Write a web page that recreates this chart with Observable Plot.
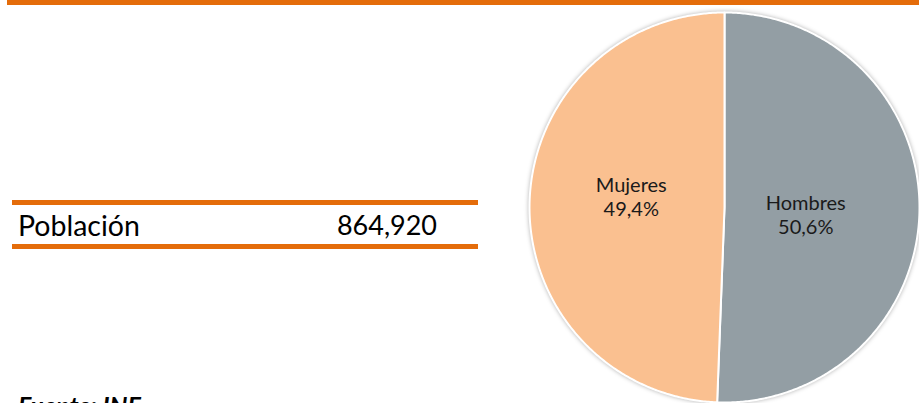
<!DOCTYPE html>
<html>
<head>
<meta charset="utf-8">
<script src="https://cdn.jsdelivr.net/npm/d3@7"></script>
<script src="https://cdn.jsdelivr.net/npm/@observablehq/plot@0.6"></script>
<style>
  html, body { margin: 0; padding: 0; background: #fff; }
  body { width: 919px; height: 403px; overflow: hidden; position: relative; font-family: Lato, "Open Sans", sans-serif; }
  .bar { position: absolute; background: #E46C0A; }
  .txt { position: absolute; white-space: nowrap; line-height: 1; color: #000; }
  #pie { position: absolute; left: 524px; top: 6.5px; width: 400px; height: 400px; }
  #pie svg { max-width: none !important; }
</style>
</head>
<body>
<div class="bar" style="left:7px; top:0; width:912px; height:5px;"></div>
<div class="bar" style="left:12px; top:200px; width:466px; height:5px;"></div>
<div class="bar" style="left:12px; top:244px; width:466px; height:5px;"></div>
<div id="lbl" class="txt" style="left:18px; top:211px; font-size:28.5px;"></div>
<div id="val" class="txt" style="right:482px; top:211px; font-size:27px;"></div>
<div id="src" class="txt" style="left:18px; top:393px; font-size:25px; font-weight:bold; font-style:italic;"></div>
<div id="pie"></div>
<script>
// ---- data ----
const sexo = ["Hombres", "Mujeres"];
const porcentaje = [50.6, 49.4];
const etiquetas = ["50,6%", "49,4%"];
const colores = ["#939EA4", "#FAC090"];
const indicador = "Población";
const poblacion = 864920;
const fuente = "Fuente: INE";

document.getElementById("lbl").textContent = indicador;
document.getElementById("val").textContent = d3.format(",")(poblacion);
document.getElementById("src").textContent = fuente;

const table = sexo.map((s, i) => ({sexo: s, valor: porcentaje[i], etiqueta: etiquetas[i]}));
const arcs = d3.pie().sort(null).value(d => d.valor)(table);

// slice outlines built from the pie angles (unit radius)
const pts = [];
arcs.forEach(a => {
  pts.push({sexo: a.data.sexo, x: 0, y: 0});
  const n = Math.max(2, Math.ceil((a.endAngle - a.startAngle) / (Math.PI / 360)));
  for (let k = 0; k <= n; k++) {
    const t = a.startAngle + (a.endAngle - a.startAngle) * k / n;
    pts.push({sexo: a.data.sexo, x: Math.sin(t), y: Math.cos(t)});
  }
  pts.push({sexo: a.data.sexo, x: 0, y: 0});
});
const labelRadius = 0.45, labelTurn = 5 * Math.PI / 180;
const labels = arcs.map(a => {
  const m = (a.startAngle + a.endAngle) / 2 + labelTurn;
  return {x: labelRadius * Math.sin(m), y: labelRadius * Math.cos(m), text: a.data.sexo + "\n" + a.data.etiqueta};
});

const k = 200 / 195;
const chart = Plot.plot({
  width: 400,
  height: 400,
  margin: 0,
  x: {domain: [-k, k], axis: null},
  y: {domain: [-k, k], axis: null},
  color: {domain: sexo, range: colores},
  marks: [
    Plot.line(pts, {x: "x", y: "y", z: "sexo", fill: "sexo", stroke: "#fff", strokeWidth: 2, curve: "linear"}),
    Plot.text(labels, {x: "x", y: "y", text: "text", dx: -6, dy: -2, fontFamily: "Lato, 'Open Sans', sans-serif", fontSize: 20, fill: "#1a1a1a", lineHeight: 1.2, lineAnchor: "middle"})
  ]
});
d3.select(chart).style("overflow", "visible").style("max-width", "none");
d3.select(chart).select('g[aria-label="line"]').style("filter", "drop-shadow(0 0 2px rgba(0,0,0,0.3))");
document.getElementById("pie").appendChild(chart);
</script>
</body>
</html>
